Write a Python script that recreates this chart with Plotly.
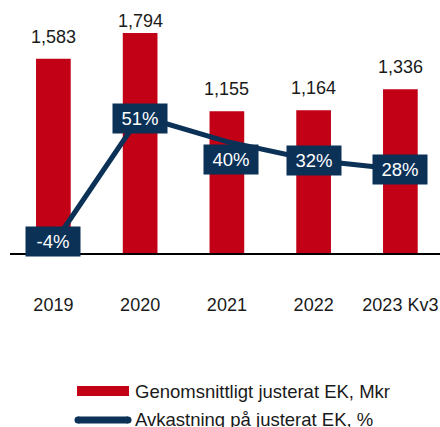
import plotly.graph_objects as go

years = ["2019", "2020", "2021", "2022", "2023 Kv3"]
equity_mkr = [1583, 1794, 1155, 1164, 1336]
return_pct = [-4, 51, 40, 32, 28]

bar_name = "Genomsnittligt justerat EK, Mkr"
line_name = "Avkastning på justerat EK, %"

RED = "#c20016"
NAVY = "#0b3157"
FONT = "Liberation Sans, Arial, sans-serif"

# plot area in pixels: x 10..440, y 0..253
L, R_EDGE, TOP, BASE = 10, 440, 0, 253


def px(x):
    return (x - L) / (R_EDGE - L)


def py(y):
    return (BASE - y) / (BASE - TOP)


fig = go.Figure()

fig.add_trace(
    go.Bar(
        x=years,
        y=equity_mkr,
        name=bar_name,
        marker=dict(color=RED, line=dict(width=0)),
        width=0.4,
        showlegend=False,
    )
)

fig.add_trace(
    go.Scatter(
        x=years,
        y=return_pct,
        name=line_name,
        yaxis="y2",
        mode="lines",
        line=dict(color=NAVY, width=5),
        showlegend=False,
    )
)

# value labels above the bars; the tallest one sits closer to its bar
for i, v in enumerate(equity_mkr):
    fig.add_annotation(
        x=i,
        y=v,
        xref="x",
        yref="y",
        text=f"{v:,}",
        showarrow=False,
        yanchor="middle",
        yshift=12 if v == max(equity_mkr) else 22,
        font=dict(size=18, color="#1a1a1a", family=FONT),
    )

# dark boxed percentage labels (x given as category index, "2019" would be read as a number)
shifts = {"2019": (0, 2), "2020": (0, -2), "2021": (4, -18)}
for i, (yr, v) in enumerate(zip(years, return_pct)):
    dx, dy = shifts.get(yr, (0, 0))
    fig.add_annotation(
        x=i,
        y=v,
        xref="x",
        yref="y2",
        text=f"{v}%",
        showarrow=False,
        bgcolor=NAVY,
        width=54,
        height=29,
        borderpad=0,
        font=dict(size=18.5, color="white", family=FONT),
        xshift=dx,
        yshift=dy,
    )

# legend drawn by hand to get the wide swatches
fig.add_shape(
    type="rect", xref="paper", yref="paper",
    x0=px(77), x1=px(129), y0=py(396), y1=py(386),
    fillcolor=RED, line=dict(width=0),
)
fig.add_shape(
    type="line", xref="paper", yref="paper",
    x0=px(78), x1=px(128), y0=py(420), y1=py(420),
    line=dict(color=NAVY, width=7),
)
for cx in (78, 128):
    fig.add_shape(
        type="circle", xref="paper", yref="paper",
        x0=px(cx - 3.5), x1=px(cx + 3.5), y0=py(423.5), y1=py(416.5),
        fillcolor=NAVY, line=dict(width=0),
    )
for name, yc in ((bar_name, 391), (line_name, 419)):
    fig.add_annotation(
        x=px(133), y=py(yc), xref="paper", yref="paper",
        text=name, showarrow=False, xanchor="left", yanchor="middle",
        font=dict(size=18.5, color="#1a1a1a", family=FONT),
    )

fig.update_xaxes(
    type="category",
    range=[-0.5, -0.5 + 430 / 86.75],
    showline=True,
    linecolor="black",
    linewidth=2,
    showgrid=False,
    ticks="",
    ticklabelstandoff=34,
    tickfont=dict(size=18, color="#1a1a1a", family=FONT),
)
fig.update_yaxes(range=[0, 2063], visible=False, showgrid=False)

fig.update_layout(
    width=440,
    height=427,
    margin=dict(l=L, r=0, t=0, b=427 - BASE),
    plot_bgcolor="white",
    paper_bgcolor="white",
    bargap=0.6,
    yaxis2=dict(
        overlaying="y",
        range=[-7.87, 100.85],
        visible=False,
        showgrid=False,
    ),
    font=dict(family=FONT),
)

# the page body has an 8px default margin; drop it so the figure sits at 0,0
fig.write_html(
    "out.html",
    config={"displayModeBar": False},
    post_script="document.body.style.margin='0px';document.body.style.overflow='hidden';",
)
